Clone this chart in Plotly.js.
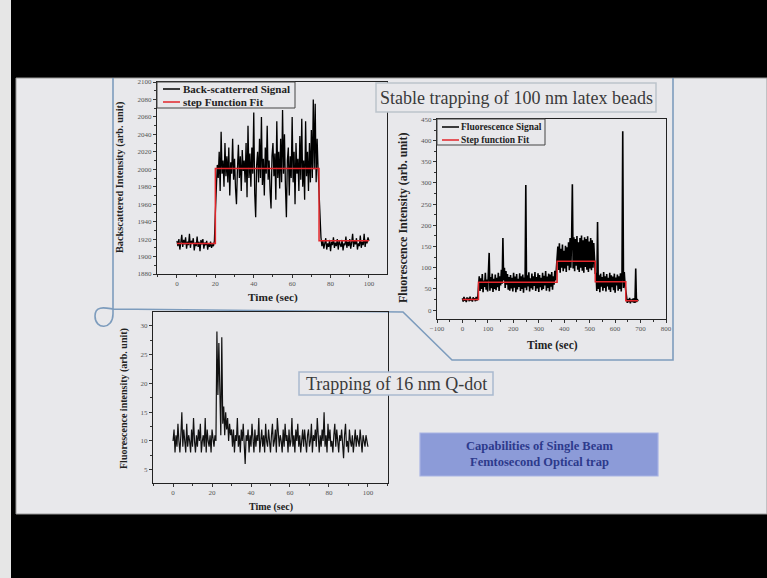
<!DOCTYPE html>
<html>
<head>
<meta charset="utf-8">
<script src="https://cdn.plot.ly/plotly-3.0.1.min.js"></script>
<style>html,body{margin:0;padding:0;background:#000;}#chart{width:767px;height:578px;}</style>
</head>
<body>
<div id="chart"></div>
<script>
// ---------------- DATA ----------------
// Chart 1: back-scattered signal, sampled every 0.5 s from 0 s
const bsSampleStart = 0;
const bsSampleStep = 0.5;
const bsSignal = [
1918,1912,1920,1908,1916,1925,1911,1919,1914,1922,1909,1917,1913,1926,1910,1918,1915,1921,1907,1916,
1912,1923,1911,1917,1906,1919,1914,1920,1909,1916,1913,1918,1908,1915,1911,1917,1910,1914,1912,1918,
1950,1985,
2005,1990,2020,1975,2043,1995,2010,1980,2030,1992,2015,1985,2025,1970,2008,1995,2035,1988,2012,1978,
1960,2000,2028,1990,2015,1975,2022,1998,2010,1985,2030,1968,2050,1990,2018,1980,2025,1995,2065,1972,
1945,2005,2020,1985,2035,1990,2060,1982,2012,1970,2025,1995,2050,1988,2010,1975,1955,2015,2030,1992,
2018,1965,2055,1990,2020,1978,2035,1985,2068,1995,2040,1980,1945,2010,2025,1970,2015,1990,2060,1985,
2020,1960,2030,1995,2012,1975,2038,1988,2058,1980,2010,1965,2055,1992,2020,1975,2030,1985,2045,1990,
2080,2000,2075,1985,2035,2000,
1965,1935,1922,
1912,1918,1909,1916,1921,1908,1915,1911,1919,1906,1917,1913,1922,1910,1916,1912,1920,1908,1918,1914,
1911,1919,1907,1915,1913,1923,1910,1917,1912,1920,1909,1916,1926,1911,1918,1914,1921,1908,1915,1912,
1924,1910,1917,1913,1926,1911,1919,1915,1922,1918
];
const bsFitTime  = [0, 20, 20, 74, 74, 100];
const bsFitValue = [1915, 1915, 2001, 2001, 1918, 1918];

// Chart 2: fluorescence signal of latex beads, sampled every 3 s from 0 s
const flSampleStart = 0;
const flSampleStep = 3;
const flSignal = [
28,20,31,22,27,19,30,24,29,21,32,23,26,20,30,25,28,21,31,23,27,
55,
80,45,75,50,85,42,70,55,88,48,
72,44,82,135,46,78,52,86,43,74,
50,84,47,76,54,88,45,80,58,95,
62,170,70,100,52,92,60,85,48,78,
46,83,51,76,44,88,53,79,42,85,
49,74,55,87,45,80,50,84,41,77,
53,295,47,82,56,89,44,75,52,86,
48,80,57,90,45,78,51,87,43,83,
54,76,47,88,50,81,58,92,46,79,
52,86,44,84,55,90,48,80,60,93,70,95,
105,
150,95,158,88,145,100,155,92,140,98,
152,90,148,105,160,94,170,100,165,297,
98,172,92,168,105,175,95,160,90,170,
100,176,93,165,88,172,102,168,95,174,
90,162,98,170,94,165,100,158,96,
85,
88,45,208,50,82,42,86,55,78,46,
90,52,80,44,85,56,76,48,88,43,
82,54,79,47,86,41,77,58,84,46,
80,50,87,44,78,422,52,90,60,
40,
28,17,26,19,29,16,25,20,27,18,28,17,98,19,26,21
];
const flFitTime  = [0, 63, 63, 372, 372, 522, 522, 642, 642, 690];
const flFitValue = [25, 25, 66, 66, 115, 115, 67, 67, 22, 22];

// Chart 3: Q-dot fluorescence, sampled every 0.5 s from 0 s
const qdSampleStart = 0;
const qdSampleStep = 0.5;
const qdSignal = [
10,12,8,11,9,13,10,8,11,15,9,12,10,8,13,9,11,10,8,12,9,14,10,8,11,9,12,10,13,8,10,11,9,14,8,12,10,9,11,8,12,10,9,11,10,
29,18,27,21,11,28,13,16,11,15,12,14,10,13,11,12,
9,12,8,11,10,14,9,11,8,12, 10,13,9,6,11,10,12,8,11,9, 13,10,8,12,9,11,10,14,8,10,
12,9,11,8,13,10,9,12,10,8, 11,13,9,10,12,8,14,10,9,11, 10,8,12,9,13,10,11,8,12,9,
10,14,9,11,8,12,10,13,9,11, 8,10,12,9,12,10,8,11,12,9, 10,13,8,11,10,12,9,14,10,8,
11,9,12,10,15,9,11,8,13,10, 12,9,10,8,11,13,9,12,10,8, 11,10,12,9,7,11,13,9,10,8,
12,10,9,11,8,10,12,9,11,10, 9,12,10,8,11,10,9,11,10,9
];

// Text
const chart1Legend = ["Back-scatterred Signal", "step Function Fit"];
const chart2Legend = ["Fluorescence Signal", "Step function Fit"];
const chart1YTitle = "Backscattered Intensity (arb. unit)";
const chart2YTitle = "Fluorescence Intensity (arb. unit)";
const chart3YTitle = "Fluorescence intensity (arb. unit)";
const timeTitle = "Time (sec)";
const boxTitle1 = "Stable trapping of 100 nm latex beads";
const boxTitle2 = "Trapping of 16 nm Q-dot";
const boxTitle3 = "Capabilities of Single Beam<br>Femtosecond Optical trap";

// ---------------- LAYOUT HELPERS ----------------
const W = 767, H = 578;
const fx = x => x / W;
const fy = y => 1 - y / H;
const SERIF = "Liberation Serif, DejaVu Serif, serif";
const SLIDE = "#e8e8eb";
const SIGNAL = "#000";
const FIT = "#e3262b";

function axis(px0, px1, range, dtick, minorDtick, tick0, anchor, vertical) {
  const dom = vertical ? [fy(px1), fy(px0)] : [fx(px0), fx(px1)];
  return {
    domain: dom, range: range, anchor: anchor, autorange: false,
    tick0: tick0, dtick: dtick,
    showline: true, linecolor: "#222", linewidth: 1, mirror: true,
    ticks: "outside", ticklen: 3, tickwidth: 1, tickcolor: "#333",
    minor: { ticks: "outside", ticklen: 2, tickwidth: 1, tickcolor: "#333", dtick: minorDtick, tick0: tick0 },
    showgrid: false, zeroline: false,
    tickfont: { family: SERIF, size: 7, color: "#555" },
    automargin: false, fixedrange: true
  };
}

const traces = [
  { type: "scatter", mode: "lines", x0: bsSampleStart, dx: bsSampleStep, y: bsSignal,
    name: chart1Legend[0], showlegend: false, xaxis: "x", yaxis: "y",
    line: { color: SIGNAL, width: 1.3 } },
  { type: "scatter", mode: "lines", x: bsFitTime, y: bsFitValue,
    name: chart1Legend[1], showlegend: false, xaxis: "x", yaxis: "y",
    line: { color: FIT, width: 1.5 } },
  { type: "scatter", mode: "lines", x0: flSampleStart, dx: flSampleStep, y: flSignal,
    name: chart2Legend[0], showlegend: false, xaxis: "x2", yaxis: "y2",
    line: { color: SIGNAL, width: 1.6 } },
  { type: "scatter", mode: "lines", x: flFitTime, y: flFitValue,
    name: chart2Legend[1], showlegend: false, xaxis: "x2", yaxis: "y2",
    line: { color: FIT, width: 1.5 } },
  { type: "scatter", mode: "lines", x0: qdSampleStart, dx: qdSampleStep, y: qdSignal,
    name: "Q-dot", showlegend: false, xaxis: "x3", yaxis: "y3",
    line: { color: "#111", width: 1.2 } }
];

function pathFrom(points) {
  return points.map((p, i) => (p[0] === "C" ? "C" + p.slice(1).map(q => fx(q[0]) + "," + fy(q[1])).join(" ")
                                 : (i === 0 ? "M" : "L") + fx(p[0]) + "," + fy(p[1]))).join(" ");
}
const connector = pathFrom([
  [113, 78], [113, 314],
  ["C", [113, 330], [95, 330], [95, 316]],
  ["C", [95, 305], [106, 308], [113, 309]],
  [403, 312], [452, 360], [673, 360], [673, 78]
]);

function rectShape(x0, y0, x1, y1, fill, line, lw, layer) {
  return { type: "rect", xref: "paper", yref: "paper", x0: fx(x0), x1: fx(x1), y0: fy(y1), y1: fy(y0),
           fillcolor: fill, line: { color: line, width: lw }, layer: layer };
}
function lineShape(x0, y0, x1, y1, color, w) {
  return { type: "line", xref: "paper", yref: "paper", x0: fx(x0), x1: fx(x1), y0: fy(y0), y1: fy(y1),
           line: { color: color, width: w }, layer: "above" };
}

function ann(text, x, y, size, opts) {
  return Object.assign({ text: text, xref: "paper", yref: "paper", x: fx(x), y: fy(y),
    xanchor: "center", yanchor: "middle", showarrow: false,
    font: { family: SERIF, size: size, color: "#222" } }, opts || {});
}

// manual legends (box, line samples, labels)
function legendParts(box, sampleX0, sampleX1, textX, rowsY, names, colors, size) {
  const sh = [rectShape(box[0], box[1], box[2], box[3], SLIDE, "#444", 1, "above")];
  const an = [];
  rowsY.forEach((y, i) => {
    sh.push(lineShape(sampleX0, y, sampleX1, y, colors[i], 1.5));
    an.push(ann("<b>" + names[i] + "</b>", textX, y, size, { xanchor: "left",
      font: { family: SERIF, size: size, color: "#222" } }));
  });
  return { shapes: sh, annotations: an };
}
const leg1 = legendParts([157, 82, 295, 108], 163, 180, 181, [89, 102], chart1Legend, [SIGNAL, FIT], 11);
const leg2 = legendParts([437, 119, 545, 145], 442, 459, 459, [127, 140], chart2Legend, [SIGNAL, FIT], 9.5);

const shapes = [
  rectShape(0, 0, 11, 578, "#e6e6e6", "rgba(0,0,0,0)", 0, "below"),
  rectShape(16, 78, 767, 514, SLIDE, "#9a9a9a", 1, "below"),
  { type: "path", xref: "paper", yref: "paper", path: connector, line: { color: "#7d9cbd", width: 1.6 }, layer: "below" },
  rectShape(376, 83, 656, 112, SLIDE, "#bcc3cc", 1.5, "above"),
  rectShape(299, 372, 493, 395, SLIDE, "#a9b9cf", 1.5, "above"),
  rectShape(420, 433, 658, 476, "#8c9bd8", "#a8b3e4", 1.2, "above")
].concat(leg1.shapes, leg2.shapes);

const annotations = [
  ann("<b>" + chart1YTitle + "</b>", 120, 178, 10.3, { textangle: -90 }),
  ann("<b>" + timeTitle + "</b>", 273, 297, 11.3),
  ann("<b>" + chart2YTitle + "</b>", 403, 218, 12, { textangle: -90 }),
  ann("<b>" + timeTitle + "</b>", 552, 345, 11.5),
  ann("<b>" + chart3YTitle + "</b>", 124, 399, 10, { textangle: -90 }),
  ann("<b>" + timeTitle + "</b>", 271, 507, 10),
  ann(boxTitle1, 516, 98, 18, { font: { family: SERIF, size: 18, color: "#3a3a3a" } }),
  ann(boxTitle2, 396, 384, 18, { font: { family: SERIF, size: 18, color: "#3a3a3a" } }),
  ann("<b>" + boxTitle3 + "</b>", 539, 454, 12.5, { font: { family: SERIF, size: 12.5, color: "#2d3a8c" } })
].concat(leg1.annotations, leg2.annotations);

const layout = {
  width: W, height: H,
  margin: { l: 0, r: 0, t: 0, b: 0, pad: 0 },
  paper_bgcolor: "#000", plot_bgcolor: "rgba(0,0,0,0)",
  showlegend: false,
  xaxis:  axis(157, 387, [-10.4, 109.4], 20, 10, 0, "y", false),
  yaxis:  axis(82, 274, [1880, 2100], 20, 10, 1880, "x", true),
  xaxis2: axis(437, 666, [-100, 800], 100, 50, 0, "y2", false),
  yaxis2: axis(119, 319, [-21, 451], 50, 25, 0, "x2", true),
  xaxis3: axis(153, 388, [-10.3, 110.3], 20, 10, 0, "y3", false),
  yaxis3: axis(312, 483, [2.7, 32.4], 5, 2.5, 0, "x3", true),
  shapes: shapes,
  annotations: annotations
};

Plotly.newPlot("chart", traces, layout, { staticPlot: true, displayModeBar: false });
</script>
</body>
</html>
